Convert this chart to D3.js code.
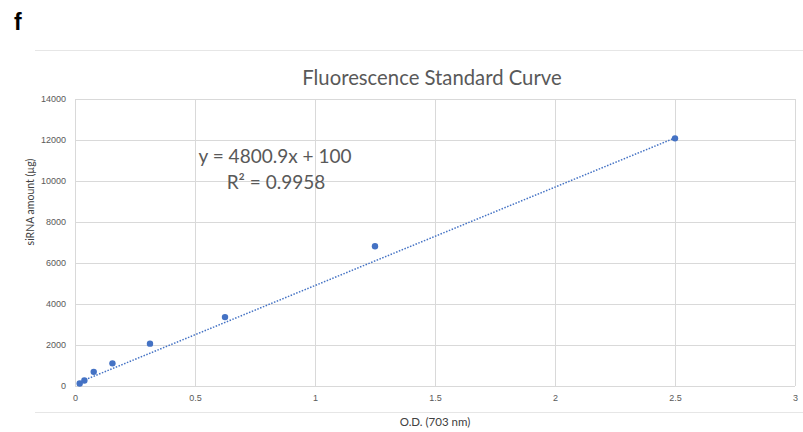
<!DOCTYPE html>
<meta charset="utf-8">
<title>Fluorescence Standard Curve</title>
<style>
body { margin: 0; background: #fff; }
svg { font-family: Lato, "Open Sans", sans-serif; }
.grid line { stroke: #d9d9d9; stroke-width: 1; }
.tick text { fill: #595959; font-size: 9px; }
</style>
<script src="https://cdnjs.cloudflare.com/ajax/libs/d3/7.8.5/d3.min.js"></script>
<body>
<script>
var width = 803, height = 432;

// data
var odValues = [0.0195, 0.039, 0.078, 0.156, 0.3125, 0.625, 1.25, 2.5];
var sirnaValues = [120, 265, 690, 1105, 2065, 3360, 6820, 12080];
var xTicks = [0, 0.5, 1, 1.5, 2, 2.5, 3];
var yTicks = [0, 2000, 4000, 6000, 8000, 10000, 12000, 14000];
var slope = 4800.9, intercept = 100, rSquared = 0.9958;

var x = d3.scaleLinear().domain([0, 3]).range([75, 795]);
var y = d3.scaleLinear().domain([0, 14000]).range([386, 99]);

var svg = d3.select("body").append("svg")
    .attr("width", width)
    .attr("height", height);

// panel letter
svg.append("text")
    .attr("x", 14).attr("y", 30)
    .style("font-family", "Liberation Sans, Arial, sans-serif")
    .style("font-weight", "bold").style("font-size", "23px")
    .text("f");

// chart frame lines
svg.append("line").attr("x1", 35).attr("x2", 803).attr("y1", 50.5).attr("y2", 50.5)
    .attr("stroke", "#e6e6e6");
svg.append("line").attr("x1", 35).attr("x2", 803).attr("y1", 412.5).attr("y2", 412.5)
    .attr("stroke", "#e6e6e6");

// gridlines
var grid = svg.append("g").attr("class", "grid");
grid.selectAll("line.h")
    .data(yTicks)
  .enter().append("line")
    .attr("class", "h")
    .attr("x1", x(0)).attr("x2", x(3))
    .attr("y1", function(d) { return Math.round(y(d)) + 0.5; })
    .attr("y2", function(d) { return Math.round(y(d)) + 0.5; });
grid.selectAll("line.v")
    .data(xTicks)
  .enter().append("line")
    .attr("class", "v")
    .attr("y1", y(0)).attr("y2", y(14000))
    .attr("x1", function(d) { return Math.round(x(d)) + 0.5; })
    .attr("x2", function(d) { return Math.round(x(d)) + 0.5; });

// axes (labels only)
var xAxis = d3.axisBottom(x).tickValues(xTicks).tickSize(0).tickPadding(9)
    .tickFormat(d3.format("~g"));
svg.append("g")
    .attr("transform", "translate(0," + y(0) + ")")
    .call(xAxis)
    .call(function(g) { g.select(".domain").remove(); });

var yAxis = d3.axisLeft(y).tickValues(yTicks).tickSize(0).tickPadding(9)
    .tickFormat(d3.format("d"));
svg.append("g")
    .attr("transform", "translate(" + x(0) + ",0)")
    .call(yAxis)
    .call(function(g) { g.select(".domain").remove(); });

// trendline
var x0 = d3.min(odValues), x1 = d3.max(odValues);
svg.append("line")
    .attr("x1", x(x0)).attr("y1", y(slope * x0 + intercept))
    .attr("x2", x(x1)).attr("y2", y(slope * x1 + intercept))
    .attr("stroke", "#4472c4")
    .attr("stroke-width", 1.5)
    .attr("stroke-dasharray", "1.5,1.5");

// points
svg.selectAll("circle.pt")
    .data(odValues)
  .enter().append("circle")
    .attr("class", "pt")
    .attr("cx", function(d) { return x(d); })
    .attr("cy", function(d, i) { return y(sirnaValues[i]); })
    .attr("r", 3.2)
    .attr("fill", "#4472c4");

// title
svg.append("text")
    .attr("x", 432).attr("y", 85)
    .attr("text-anchor", "middle")
    .attr("fill", "#595959")
    .style("font-size", "20.3px")
    .text("Fluorescence Standard Curve");

// equation
svg.append("text")
    .attr("x", 275).attr("y", 163)
    .attr("text-anchor", "middle")
    .attr("fill", "#595959")
    .style("font-size", "19px")
    .text("y = " + slope + "x + " + intercept);
svg.append("text")
    .attr("x", 276).attr("y", 189)
    .attr("text-anchor", "middle")
    .attr("fill", "#595959")
    .style("font-size", "19px")
    .text("R² = " + rSquared);

// axis titles
svg.append("text")
    .attr("x", 435).attr("y", 426)
    .attr("text-anchor", "middle")
    .attr("fill", "#404040")
    .style("font-size", "11.5px")
    .text("O.D. (703 nm)");
svg.append("text")
    .attr("transform", "translate(34,202) rotate(-90)")
    .attr("text-anchor", "middle")
    .attr("fill", "#404040")
    .style("font-size", "10.5px")
    .text("siRNA amount (µg)");
</script>
